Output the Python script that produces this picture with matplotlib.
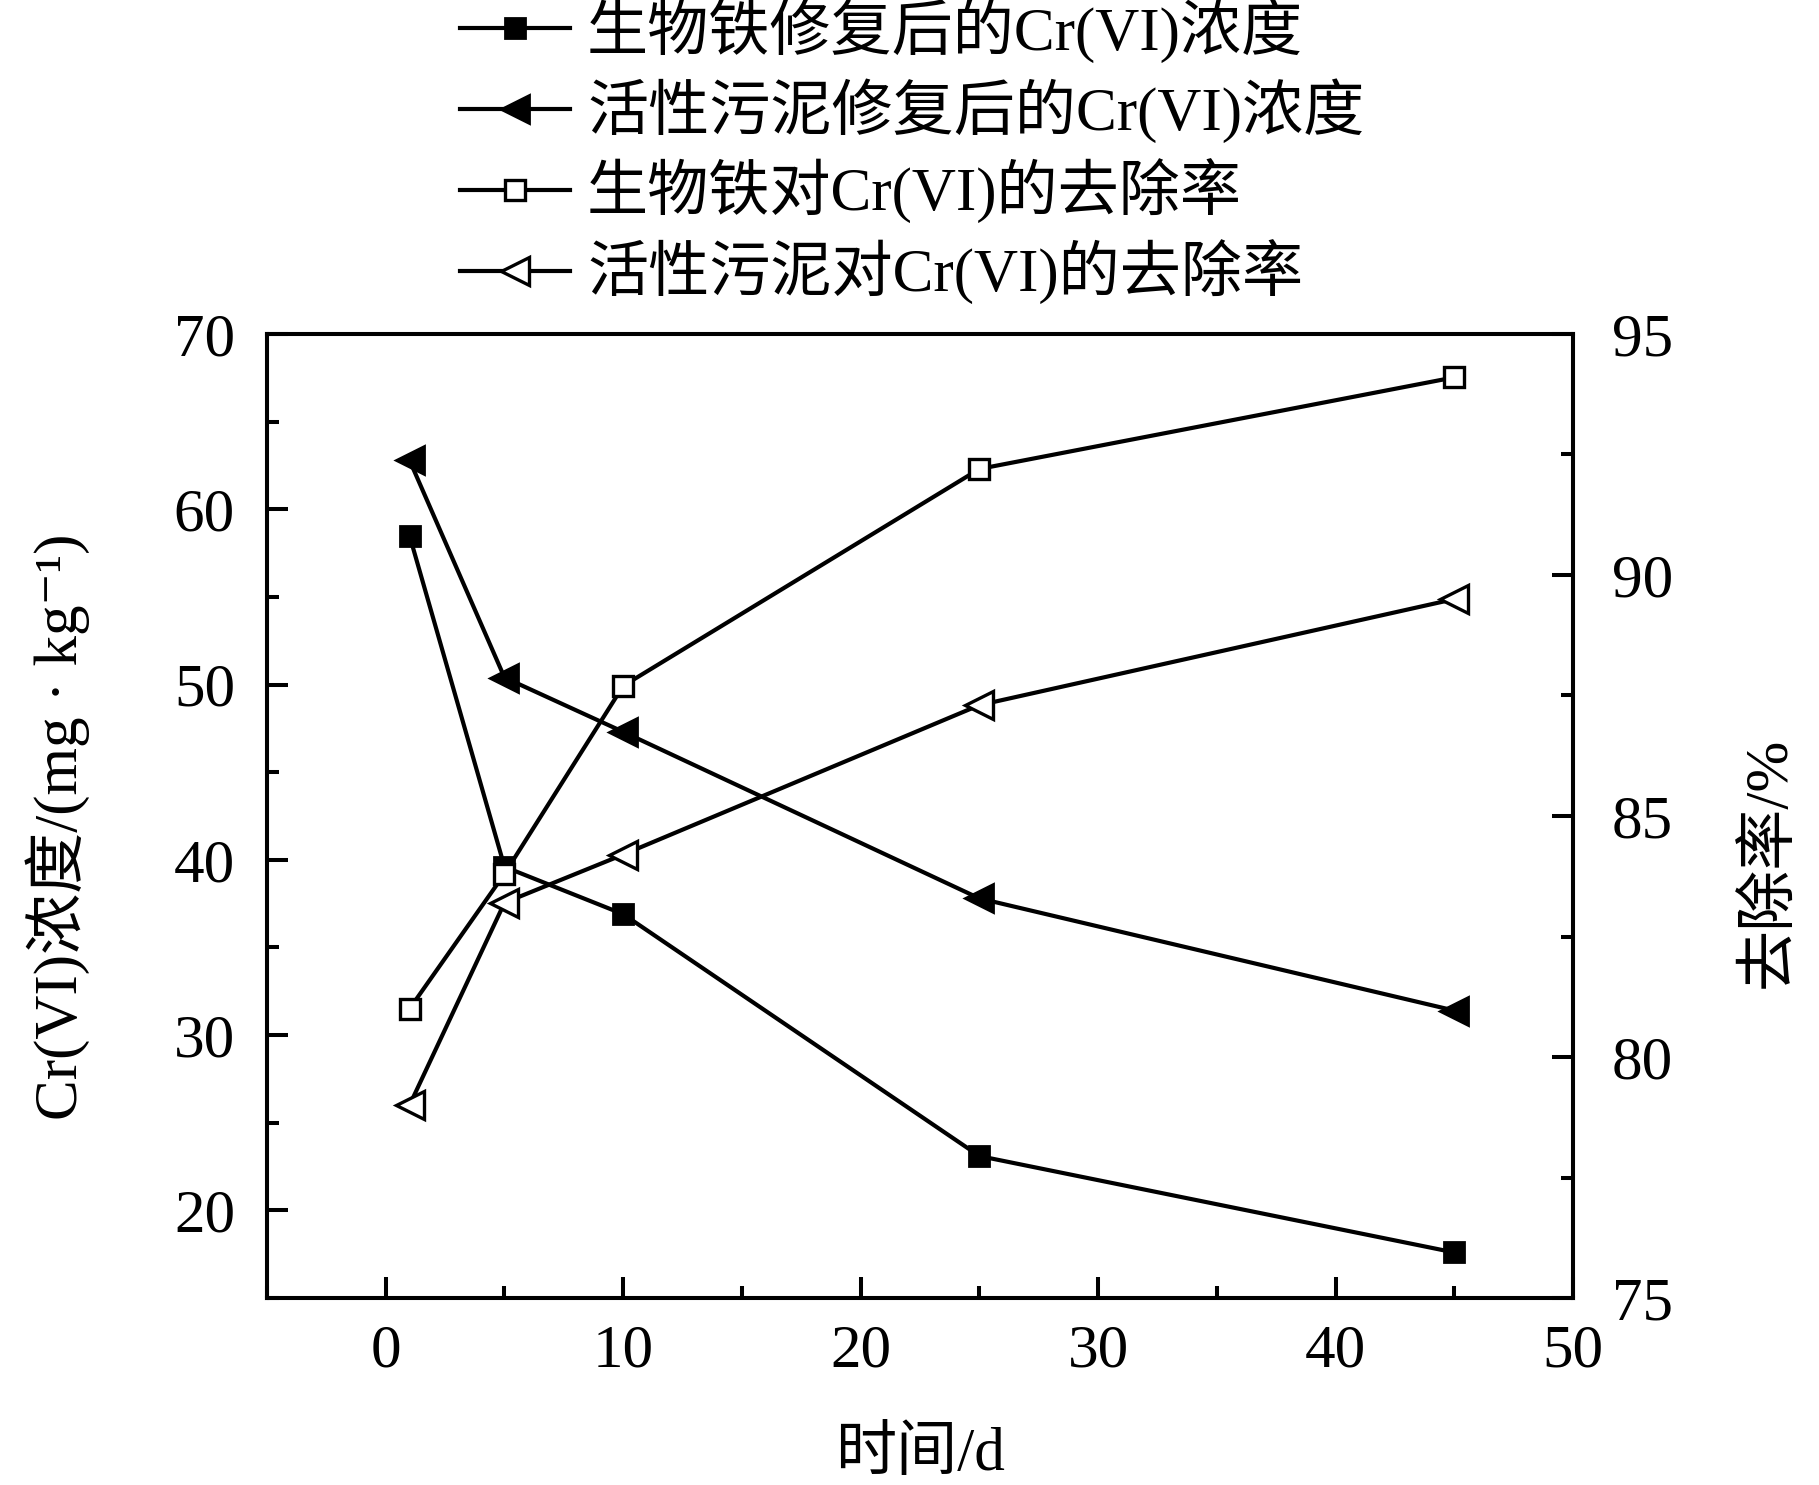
import matplotlib
matplotlib.use('Agg')
import matplotlib.pyplot as plt
from matplotlib.ticker import MultipleLocator

plt.rcParams['font.family'] = ['Liberation Serif', 'Noto Sans CJK SC', 'DejaVu Serif']
plt.rcParams['font.size'] = 44

# 数据
days = [1, 5, 10, 25, 45]
conc_bio_fe = [58.5, 39.6, 36.9, 23.1, 17.6]   # 生物铁修复后的Cr(VI)浓度
conc_sludge = [62.8, 50.4, 47.3, 37.8, 31.4]   # 活性污泥修复后的Cr(VI)浓度
rate_bio_fe = [81.0, 83.8, 87.7, 92.2, 94.1]   # 生物铁对Cr(VI)的去除率
rate_sludge = [79.0, 83.2, 84.2, 87.3, 89.5]   # 活性污泥对Cr(VI)的去除率

labels = ['生物铁修复后的Cr(VI)浓度',
          '活性污泥修复后的Cr(VI)浓度',
          '生物铁对Cr(VI)的去除率',
          '活性污泥对Cr(VI)的去除率']

lw = 3.0
ms = 15
fig = plt.figure(figsize=(18.19, 14.85), dpi=100)
ax = fig.add_axes([0.1468, 0.1259, 0.718, 0.6492])
ax2 = ax.twinx()

l1, = ax.plot(days, conc_bio_fe, color='k', lw=lw, marker='s', ms=ms,
              mfc='k', mec='k', mew=2)
l2, = ax.plot(days, conc_sludge, color='k', lw=lw, marker='<', ms=ms + 5,
              mfc='k', mec='k', mew=2)
l3, = ax2.plot(days, rate_bio_fe, color='k', lw=lw, marker='s', ms=ms,
               mfc='white', mec='k', mew=2.4)
l4, = ax2.plot(days, rate_sludge, color='k', lw=lw, marker='<', ms=ms + 5,
               mfc='white', mec='k', mew=2.4)

ax.set_xlim(-5, 50)
ax.set_ylim(15, 70)
ax2.set_ylim(75, 95)
ax.xaxis.set_major_locator(MultipleLocator(10))
ax.xaxis.set_minor_locator(MultipleLocator(5))
ax.yaxis.set_major_locator(MultipleLocator(10))
ax.yaxis.set_minor_locator(MultipleLocator(5))
ax2.yaxis.set_major_locator(MultipleLocator(5))
ax2.yaxis.set_minor_locator(MultipleLocator(2.5))

for a in (ax, ax2):
    for s in a.spines.values():
        s.set_linewidth(2.9)
    a.tick_params(which='both', direction='in', width=2.9)
    a.tick_params(which='major', length=15)
    a.tick_params(which='minor', length=8.5)
ax.tick_params(axis='x', which='both', top=False, pad=19)
ax.tick_params(axis='y', which='both', right=False, pad=23)
ax2.tick_params(axis='y', which='both', pad=28)

ax.set_xlabel('时间/d')
ax.xaxis.label.set_va('center')
ax.xaxis.set_label_coords(0.5, -0.163)
ax.set_ylabel('Cr(VI)浓度/(mg · kg⁻¹)')
ax.yaxis.label.set_va('center')
ax.yaxis.set_label_coords(-0.160, 0.489)
ax2.set_ylabel('去除率/%')
ax2.yaxis.label.set_va('center')
ax2.yaxis.label.set_rotation(90)
ax2.yaxis.set_label_coords(1.151, 0.452)

fig.legend([l1, l2, l3, l4], labels, loc='center left',
           bbox_to_anchor=(0.2529, 0.898), frameon=False, numpoints=1,
           handlelength=1.8, handletextpad=0.28, labelspacing=0.26,
           borderpad=0, borderaxespad=0)

fig.savefig('out.png', dpi=100)
